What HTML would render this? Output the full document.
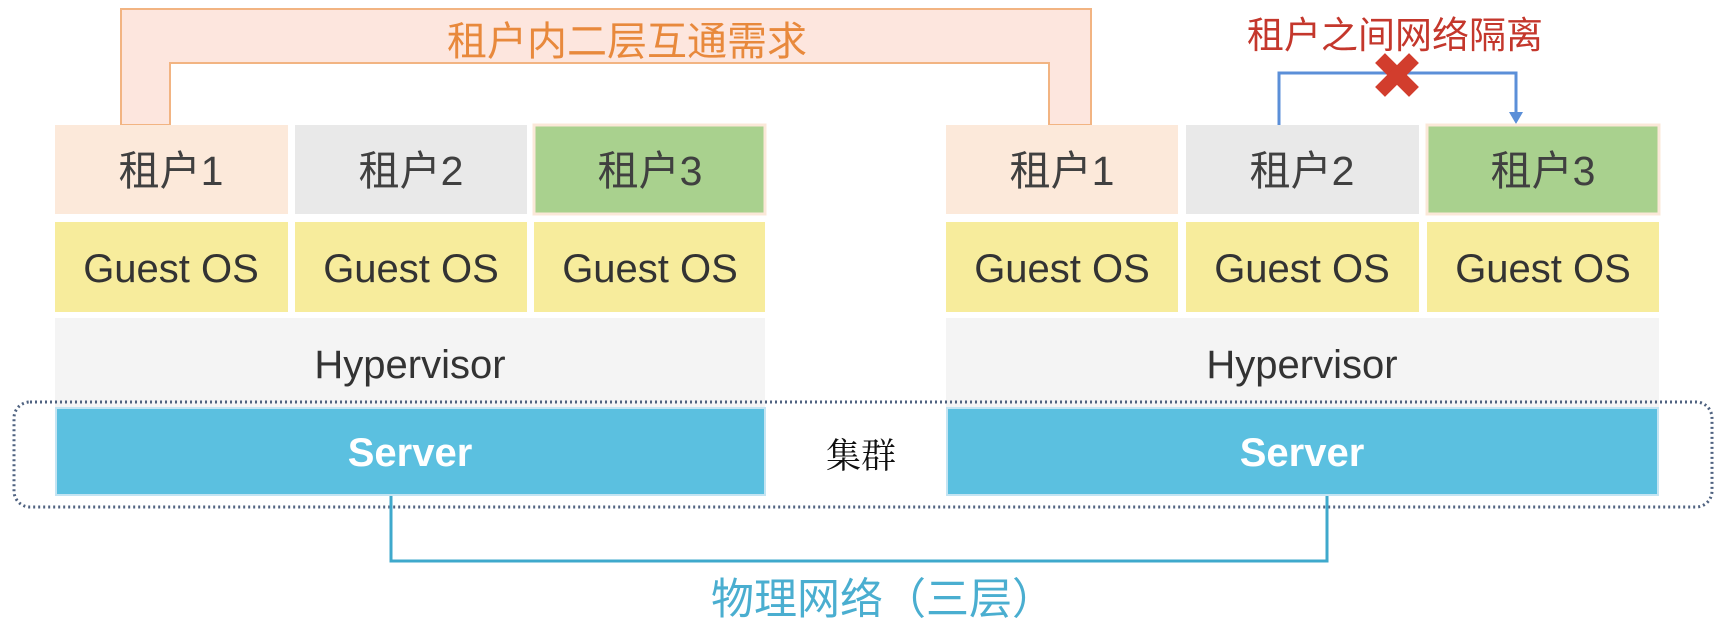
<!DOCTYPE html>
<html><head><meta charset="utf-8"><style>
html,body{margin:0;padding:0;background:#fff;}
svg{display:block;}
</style></head><body>
<svg width="1716" height="630" viewBox="0 0 1716 630" xmlns="http://www.w3.org/2000/svg">
<!-- orange bracket -->
<path d="M121 125 L121 9 L1091 9 L1091 125 L1049 125 L1049 63 L170 63 L170 125 Z" fill="#fde6de" stroke="#f2b482" stroke-width="2"/>
<text x="447" y="55" font-size="40" fill="#e8893c" font-family="Liberation Sans, Noto Sans CJK SC, sans-serif">租户内二层互通需求</text>

<!-- red label -->
<text x="1247" y="48" font-size="37" fill="#c4372c" font-family="Liberation Sans, Noto Sans CJK SC, sans-serif">租户之间网络隔离</text>
<!-- blue arrow -->
<path d="M1279 126 L1279 73 L1516 73 L1516 113" fill="none" stroke="#5b8fd8" stroke-width="3"/>
<path d="M1509 112 L1523 112 L1516 124 Z" fill="#5b8fd8"/>
<!-- red X -->
<g transform="translate(1397,75) rotate(45)">
<rect x="-24" y="-7" width="48" height="14" fill="#d23d2d"/>
<rect x="-7" y="-24" width="14" height="48" fill="#d23d2d"/>
</g>

<g font-family="Liberation Sans, Noto Sans CJK SC, sans-serif" text-anchor="middle">
<!-- left column -->
<rect x="55" y="125" width="233" height="89" fill="#fce9da"/>
<rect x="295" y="125" width="232" height="89" fill="#e9e9e9"/>
<rect x="534" y="125" width="231" height="89" fill="#a9d18e" stroke="#fbe8d8" stroke-width="3"/>
<text x="171" y="185" font-size="41" fill="#404040">租户1</text>
<text x="411" y="185" font-size="41" fill="#404040">租户2</text>
<text x="650" y="185" font-size="41" fill="#404040">租户3</text>
<rect x="55" y="222" width="233" height="90" fill="#f7ec9c"/>
<rect x="295" y="222" width="232" height="90" fill="#f7ec9c"/>
<rect x="534" y="222" width="231" height="90" fill="#f7ec9c"/>
<text x="171" y="282" font-size="40" fill="#333">Guest OS</text>
<text x="411" y="282" font-size="40" fill="#333">Guest OS</text>
<text x="650" y="282" font-size="40" fill="#333">Guest OS</text>
<rect x="55" y="318" width="710" height="90" fill="#f4f4f4"/>
<text x="410" y="378" font-size="40" fill="#333">Hypervisor</text>
<rect x="56" y="408" width="709" height="87" fill="#5bc0e0" stroke="#c4e4f2" stroke-width="2"/>
<text x="410" y="466" font-size="40" font-weight="bold" fill="#fff">Server</text>

<!-- right column -->
<rect x="946" y="125" width="232" height="89" fill="#fce9da"/>
<rect x="1186" y="125" width="233" height="89" fill="#e9e9e9"/>
<rect x="1427" y="125" width="232" height="89" fill="#a9d18e" stroke="#fbe8d8" stroke-width="3"/>
<text x="1062" y="185" font-size="41" fill="#404040">租户1</text>
<text x="1302" y="185" font-size="41" fill="#404040">租户2</text>
<text x="1543" y="185" font-size="41" fill="#404040">租户3</text>
<rect x="946" y="222" width="232" height="90" fill="#f7ec9c"/>
<rect x="1186" y="222" width="233" height="90" fill="#f7ec9c"/>
<rect x="1427" y="222" width="232" height="90" fill="#f7ec9c"/>
<text x="1062" y="282" font-size="40" fill="#333">Guest OS</text>
<text x="1302" y="282" font-size="40" fill="#333">Guest OS</text>
<text x="1543" y="282" font-size="40" fill="#333">Guest OS</text>
<rect x="946" y="318" width="713" height="90" fill="#f4f4f4"/>
<text x="1302" y="378" font-size="40" fill="#333">Hypervisor</text>
<rect x="947" y="408" width="711" height="87" fill="#5bc0e0" stroke="#c4e4f2" stroke-width="2"/>
<text x="1302" y="466" font-size="40" font-weight="bold" fill="#fff">Server</text>

<text x="861" y="468" font-size="35" fill="#111" font-family="Liberation Serif, Noto Serif CJK SC, serif">集群</text>
</g>

<!-- dotted cluster box -->
<rect x="14" y="402" width="1698" height="105" rx="16" ry="16" fill="none" stroke="#4f6280" stroke-width="3" stroke-dasharray="2 3"/>

<!-- physical network -->
<path d="M391 496 L391 561 L1327 561 L1327 496" fill="none" stroke="#3fa9cc" stroke-width="3"/>
<text x="711" y="614" font-size="43" fill="#4aaed0" font-family="Liberation Sans, Noto Sans CJK SC, sans-serif">物理网络（三层）</text>
</svg>
</body></html>
